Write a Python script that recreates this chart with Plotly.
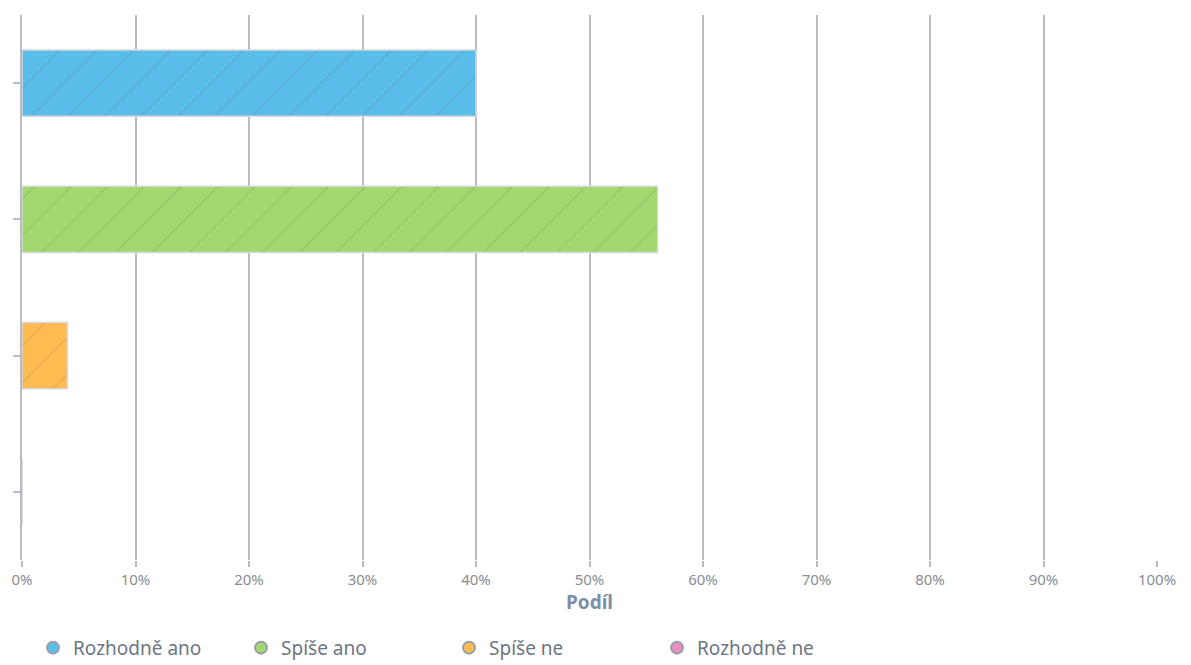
import plotly.graph_objects as go

# Survey answers and their shares
categories = ["Rozhodně ano", "Spíše ano", "Spíše ne", "Rozhodně ne"]
shares = [0.40, 0.56, 0.04, 0.0]
colors = ["#5bbde9", "#a2d86f", "#fdbb52", "#e98cc1"]
hatch = ["#3aa7dc", "#8cc655", "#f0a531", "#d9709f"]
x_ticks = [i / 10 for i in range(11)]

FONT = "Noto Sans"
GRID = "#b9bcc2"

fig = go.Figure()

fig.add_trace(go.Bar(
    y=categories,
    x=shares,
    orientation="h",
    marker=dict(
        color=colors,
        line=dict(color="#d8d8d8", width=1.5),
        pattern=dict(shape="/", fgcolor=hatch, fgopacity=0.14,
                     size=26, solidity=0.05),
    ),
    showlegend=False,
    hoverinfo="skip",
))

# Legend entries with round markers
for name, c in zip(categories, colors):
    fig.add_trace(go.Scatter(
        x=[None], y=[None], mode="markers", name=name,
        marker=dict(symbol="circle", size=15, color=c,
                    line=dict(color="#9aa0a8", width=1)),
    ))

fig.update_layout(
    width=1191, height=665,
    margin=dict(l=22, r=34, t=15, b=105, autoexpand=False),
    plot_bgcolor="white", paper_bgcolor="white",
    bargap=0.515,
    font=dict(family=FONT),
    xaxis=dict(
        range=[0, 1], tickvals=x_ticks, tickformat=".0%",
        showgrid=True, gridcolor=GRID, gridwidth=2,
        zeroline=False, showline=False,
        ticks="outside", ticklen=6, tickcolor=GRID, tickwidth=2,
        tickfont=dict(size=15, color="#8a8d92", family=FONT),
        title=dict(text="<b>Podíl</b>", standoff=6,
                   font=dict(size=19, color="#7d8fa8", family=FONT)),
    ),
    yaxis=dict(
        categoryorder="array", categoryarray=categories,
        autorange="reversed",
        showticklabels=False, showgrid=False, zeroline=False,
        showline=True, linecolor=GRID, linewidth=2,
        ticks="outside", ticklen=7, tickcolor=GRID, tickwidth=2,
    ),
    legend=dict(
        orientation="h", x=0.0097, xanchor="left", y=-0.196, yanchor="bottom",
        entrywidth=163, entrywidthmode="pixels",
        font=dict(size=19, color="#6c7683", family=FONT),
        itemsizing="constant",
    ),
)

fig.write_html("out.html")
